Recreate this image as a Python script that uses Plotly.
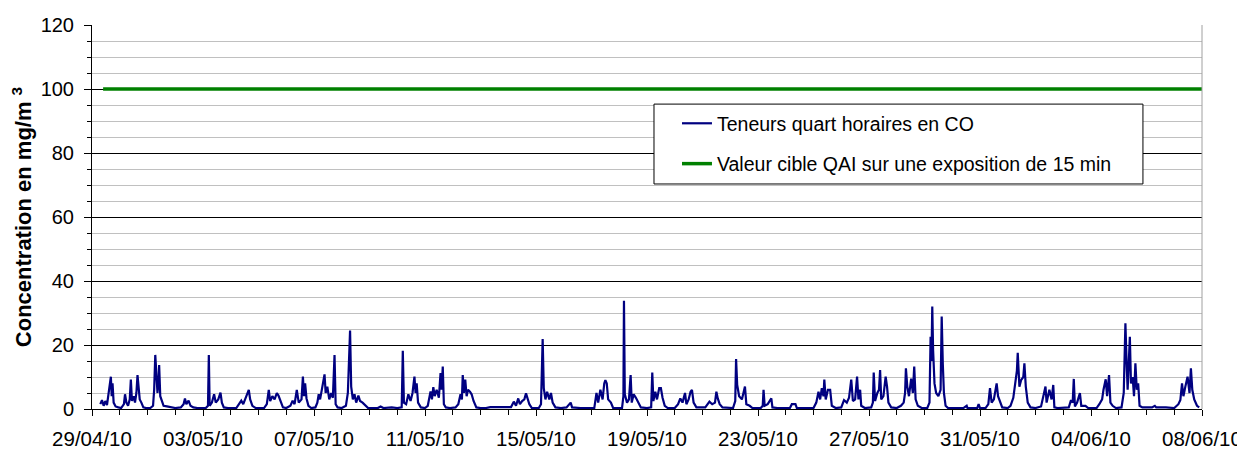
import pandas as pd
import plotly.graph_objects as go

# ---- data ----
start_date = "2010-04-29"
end_date = "2010-06-08"

# time in days since 29/04/10 00:00, and 15-min CO concentrations (mg/m3)
t_days = [
    0.30, 0.36, 0.42, 0.48, 0.54, 0.60, 0.64, 0.68, 0.71, 0.74, 0.78, 0.85, 0.95, 1.05, 1.15, 1.19, 1.24, 1.30, 1.36, 1.40,
    1.44, 1.50, 1.55, 1.60, 1.64, 1.68, 1.72, 1.78, 1.85, 1.95, 2.10, 2.20, 2.24, 2.28, 2.32, 2.36, 2.40, 2.42, 2.46, 2.52,
    2.58, 2.70, 2.85, 3.00, 3.20, 3.30, 3.35, 3.40, 3.48, 3.55, 3.65, 3.80, 4.10, 4.18, 4.21, 4.24, 4.32, 4.40, 4.46, 4.55,
    4.63, 4.68, 4.75, 4.90, 5.20, 5.30, 5.38, 5.45, 5.55, 5.62, 5.65, 5.70, 5.78, 5.90, 6.20, 6.30, 6.37, 6.42, 6.50, 6.58,
    6.66, 6.72, 6.80, 6.88, 7.00, 7.15, 7.23, 7.30, 7.38, 7.45, 7.55, 7.60, 7.64, 7.68, 7.73, 7.80, 7.90, 8.05, 8.12, 8.17,
    8.22, 8.30, 8.38, 8.42, 8.48, 8.55, 8.62, 8.68, 8.74, 8.78, 8.85, 9.00, 9.15, 9.22, 9.26, 9.30, 9.34, 9.40, 9.46, 9.52,
    9.60, 9.66, 9.75, 9.85, 9.95, 10.30, 10.40, 10.50, 10.80, 11.00, 11.16, 11.20, 11.24, 11.32, 11.40, 11.48, 11.55, 11.62, 11.66, 11.70,
    11.75, 11.85, 12.00, 12.10, 12.20, 12.25, 12.30, 12.35, 12.42, 12.50, 12.56, 12.60, 12.64, 12.68, 12.75, 12.90, 13.10, 13.20, 13.28, 13.33,
    13.36, 13.40, 13.45, 13.50, 13.55, 13.62, 13.68, 13.75, 13.85, 14.00, 14.20, 14.35, 15.10, 15.20, 15.28, 15.36, 15.42, 15.50, 15.58, 15.64,
    15.70, 15.76, 15.85, 16.10, 16.18, 16.24, 16.28, 16.34, 16.40, 16.48, 16.54, 16.60, 16.70, 16.90, 17.10, 17.25, 17.30, 17.60, 18.10, 18.18,
    18.24, 18.32, 18.40, 18.46, 18.50, 18.55, 18.60, 18.70, 18.78, 19.10, 19.15, 19.17, 19.20, 19.28, 19.35, 19.41, 19.45, 19.52, 19.60, 19.68,
    19.78, 20.00, 20.15, 20.19, 20.23, 20.30, 20.36, 20.44, 20.50, 20.56, 20.64, 20.75, 21.00, 21.12, 21.20, 21.28, 21.37, 21.42, 21.50, 21.57,
    21.62, 21.68, 21.78, 22.00, 22.10, 22.25, 22.35, 22.45, 22.50, 22.55, 22.62, 22.72, 22.90, 23.10, 23.18, 23.21, 23.25, 23.32, 23.42, 23.53,
    23.58, 23.70, 23.80, 24.10, 24.17, 24.20, 24.24, 24.35, 24.48, 24.52, 24.70, 25.15, 25.22, 25.35, 25.40, 26.00, 26.10, 26.18, 26.24, 26.30,
    26.36, 26.39, 26.44, 26.52, 26.60, 26.66, 26.80, 27.00, 27.10, 27.20, 27.28, 27.36, 27.42, 27.50, 27.57, 27.62, 27.68, 27.72, 27.85, 28.08,
    28.14, 28.17, 28.22, 28.30, 28.36, 28.40, 28.44, 28.52, 28.60, 28.65, 28.70, 28.80, 29.00, 29.15, 29.25, 29.30, 29.33, 29.38, 29.44, 29.52,
    29.58, 29.63, 29.68, 29.76, 29.90, 30.10, 30.18, 30.22, 30.25, 30.28, 30.31, 30.36, 30.42, 30.50, 30.58, 30.62, 30.66, 30.70, 30.76, 30.85,
    31.40, 31.52, 31.55, 31.90, 31.95, 32.00, 32.20, 32.30, 32.36, 32.42, 32.50, 32.60, 32.65, 32.72, 32.80, 33.00, 33.10, 33.20, 33.28, 33.33,
    33.36, 33.42, 33.48, 33.56, 33.60, 33.65, 33.72, 33.82, 34.00, 34.20, 34.36, 34.40, 34.50, 34.58, 34.64, 34.68, 34.80, 35.20, 35.28, 35.34,
    35.38, 35.42, 35.50, 35.60, 35.65, 35.80, 35.90, 36.20, 36.30, 36.40, 36.45, 36.53, 36.58, 36.65, 36.70, 36.78, 36.90, 37.10, 37.18, 37.20,
    37.24, 37.28, 37.32, 37.40, 37.44, 37.50, 37.55, 37.60, 37.65, 37.70, 37.75, 37.85, 38.20, 38.30, 38.35, 38.70, 39.00, 39.15, 39.22, 39.28,
    39.33, 39.40, 39.48, 39.55, 39.60, 39.65, 39.72, 39.82, 39.90,
]
co_mgm3 = [
    1.5, 2.8, 1.0, 2.5, 1.2, 5.0, 7.5, 10.1, 4.0, 8.0, 2.0, 0.8, 0.5, 0.3, 1.5, 4.6, 2.0, 1.0, 3.0, 9.2,
    2.5, 4.0, 2.0, 5.0, 10.6, 6.5, 3.0, 2.0, 0.5, 0.3, 0.3, 1.0, 6.0, 16.9, 8.0, 5.0, 9.0, 13.7, 4.0, 2.6,
    1.0, 0.8, 0.5, 0.3, 0.5, 1.5, 3.3, 1.5, 2.6, 1.0, 0.5, 0.3, 0.3, 1.0, 16.9, 1.0, 2.0, 4.6, 2.0, 3.0,
    5.1, 2.0, 0.5, 0.3, 0.3, 1.5, 2.6, 1.5, 3.5, 5.0, 6.0, 3.0, 1.0, 0.3, 0.3, 1.5, 6.0, 2.5, 4.0, 3.0,
    5.0, 4.2, 2.0, 0.5, 0.3, 1.0, 2.6, 1.5, 6.0, 2.0, 3.0, 10.1, 4.0, 8.0, 3.3, 1.0, 0.3, 0.5, 2.0, 4.6,
    3.0, 7.5, 10.8, 5.0, 7.0, 3.0, 5.0, 3.5, 16.9, 1.5, 0.5, 0.3, 1.0, 5.0, 14.3, 24.5, 7.0, 3.0, 4.6, 2.0,
    4.2, 2.5, 2.0, 1.0, 0.3, 0.3, 0.8, 0.3, 0.5, 0.3, 0.5, 18.2, 2.0, 1.5, 4.6, 2.5, 5.0, 10.1, 5.0, 8.0,
    2.0, 0.5, 0.3, 1.0, 5.5, 3.0, 6.8, 4.0, 6.0, 3.5, 11.2, 6.0, 13.3, 1.5, 0.5, 0.3, 0.5, 1.5, 4.6, 3.0,
    10.6, 5.0, 9.2, 4.0, 6.0, 5.4, 4.6, 2.5, 0.5, 0.3, 0.3, 0.6, 0.6, 2.3, 1.0, 3.3, 1.5, 2.5, 3.0, 4.9,
    3.0, 1.5, 0.3, 0.3, 1.5, 21.9, 6.5, 3.0, 5.4, 3.0, 5.0, 2.0, 0.5, 0.3, 0.5, 2.0, 0.5, 0.3, 0.3, 5.0,
    2.0, 6.0, 3.0, 8.0, 9.0, 8.0, 3.0, 2.0, 0.3, 0.3, 4.0, 33.8, 4.6, 2.0, 3.0, 10.6, 2.0, 4.6, 3.5, 2.0,
    0.5, 0.3, 0.5, 11.4, 2.5, 5.4, 3.0, 6.5, 6.5, 3.5, 1.0, 0.3, 0.3, 1.5, 3.3, 2.0, 5.0, 1.5, 3.0, 5.4,
    6.0, 2.0, 0.5, 0.5, 0.5, 2.3, 1.5, 2.0, 5.4, 3.3, 1.5, 0.5, 0.3, 0.3, 2.5, 15.6, 7.5, 4.0, 3.0, 7.0,
    1.5, 1.0, 0.3, 0.3, 1.0, 6.0, 1.0, 1.5, 3.3, 0.5, 0.3, 0.3, 1.5, 1.5, 0.3, 0.3, 2.0, 5.4, 3.0, 6.5,
    4.0, 9.2, 3.0, 6.0, 6.0, 1.0, 0.3, 0.5, 2.8, 2.0, 3.5, 9.2, 2.5, 3.0, 10.1, 3.0, 6.0, 1.0, 0.3, 0.5,
    2.0, 11.4, 2.5, 5.0, 6.0, 12.2, 3.0, 4.0, 10.1, 7.0, 2.0, 0.5, 0.3, 1.0, 2.0, 5.0, 12.7, 7.0, 4.0, 9.5,
    5.0, 13.3, 3.0, 1.0, 0.3, 0.3, 2.0, 22.6, 15.0, 32.0, 18.4, 8.0, 5.0, 4.0, 6.0, 28.9, 14.0, 5.0, 1.0, 0.3,
    0.3, 1.0, 0.3, 0.3, 1.5, 0.3, 0.3, 1.5, 6.5, 2.0, 3.0, 8.0, 4.0, 2.0, 0.5, 0.3, 1.0, 3.5, 8.5, 12.0,
    17.6, 7.0, 9.0, 10.0, 14.3, 7.0, 2.0, 0.5, 0.3, 0.8, 7.0, 2.0, 6.0, 3.0, 7.5, 0.5, 0.3, 0.5, 2.8, 2.0,
    9.4, 0.8, 2.0, 5.0, 1.0, 1.0, 0.3, 0.3, 1.5, 3.0, 6.0, 9.3, 4.0, 10.6, 2.0, 1.0, 0.3, 0.5, 5.0, 17.4,
    26.8, 15.3, 6.0, 22.6, 8.0, 10.0, 4.0, 14.3, 6.0, 8.0, 1.0, 0.5, 0.5, 1.0, 0.5, 0.5, 0.3, 1.5, 2.8, 8.0,
    4.0, 7.0, 10.1, 5.0, 12.7, 6.0, 3.0, 1.0, 0.5,
]

target_days = [0.40, 40.0]
target_value = 100

series_name = "Teneurs quart horaires en CO"
target_name = "Valeur cible QAI sur une exposition de 15 min"
y_title = "<b>Concentration en mg/m <sup>3</sup></b>"

# ---- build ----
base = pd.Timestamp(start_date)
x_co = base + pd.to_timedelta(t_days, unit="D")
x_target = base + pd.to_timedelta(target_days, unit="D")

FONT = "Liberation Sans, Arial, sans-serif"

fig = go.Figure()
fig.add_trace(go.Scatter(
    x=x_co, y=co_mgm3, mode="lines", name=series_name,
    line=dict(color="#000080", width=2.2), legendgroup="a",
))
fig.add_trace(go.Scatter(
    x=x_target, y=[target_value] * len(x_target), mode="lines", name=target_name,
    line=dict(color="#008000", width=3.5), legendgroup="b",
))

DAY_MS = 86400000

# page body has an 8px margin, so the figure is drawn at (8, 8)
fig.update_layout(
    width=1237, height=442,
    margin=dict(l=84, r=43, t=17, b=41),
    paper_bgcolor="white", plot_bgcolor="white",
    font=dict(family=FONT, size=20, color="black"),
    showlegend=True,
    legend=dict(
        x=0.527, y=0.794, xanchor="left", yanchor="top",
        bgcolor="rgba(0,0,0,0)", borderwidth=0,
        font=dict(family=FONT, size=19.5, color="black"),
        tracegroupgap=12, traceorder="grouped",
    ),
    xaxis=dict(
        type="date", range=[start_date, end_date],
        tick0=start_date, dtick=4 * DAY_MS, tickformat="%d/%m/%y",
        ticks="outside", ticklen=6, tickcolor="black",
        showline=True, linecolor="black", linewidth=1,
        showgrid=False, zeroline=False,
        tickfont=dict(family=FONT, size=20.5),
        ticklabelstandoff=5,
        minor=dict(dtick=DAY_MS, ticks="outside", ticklen=5, tickcolor="black", showgrid=False),
        automargin=False,
    ),
    yaxis=dict(
        range=[0, 120], tick0=0, dtick=20,
        ticks="outside", ticklen=7, tickcolor="black",
        showline=True, linecolor="black", linewidth=1,
        showgrid=True, gridcolor="black", gridwidth=1,
        zeroline=False,
        tickfont=dict(family=FONT, size=20),
        ticklabelstandoff=6,
        minor=dict(dtick=5, ticks="outside", ticklen=4, tickcolor="black",
                   showgrid=True, gridcolor="#C0C0C0", gridwidth=1),
        title=dict(text=y_title, font=dict(family=FONT, size=22, color="black"), standoff=9),
        automargin=False,
    ),
    shapes=[
        dict(type="line", xref="paper", yref="paper", x0=1, x1=1, y0=0, y1=1,
             line=dict(color="#A0A0A0", width=1), layer="above"),
        dict(type="rect", xref="paper", yref="paper", x0=0.5063, x1=0.9468, y0=0.586, y1=0.794,
             fillcolor="white", line=dict(color="black", width=1), layer="above"),
    ],
)

fig.write_html("out.html")
